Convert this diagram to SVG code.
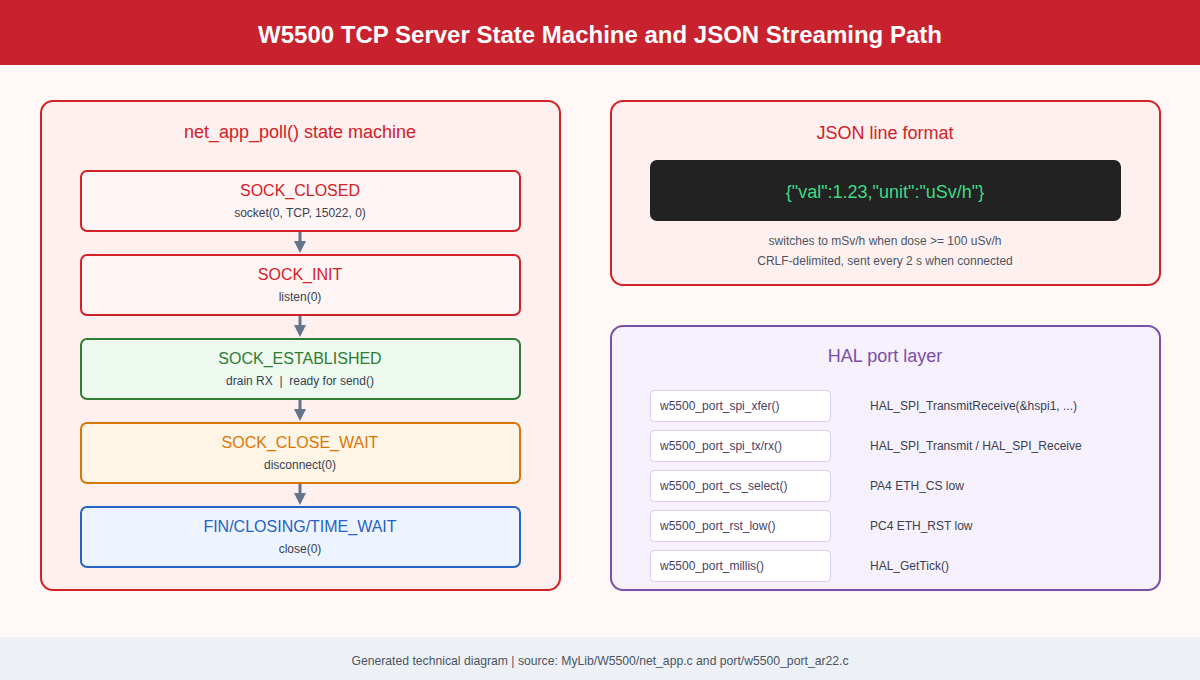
<svg xmlns="http://www.w3.org/2000/svg" width="1200" height="680" viewBox="0 0 1200 680">
<defs>
<style>
text{font-family:"Liberation Sans",Arial,sans-serif}
.panelT{font-size:18px;text-anchor:middle}
.stT{font-size:16px;text-anchor:middle}
.stS{font-size:12px;text-anchor:middle;fill:#374151}
.red{fill:#fff5f5;stroke:#d42027;stroke-width:2}
.grn{fill:#eef9f0;stroke:#2e7d32;stroke-width:2}
.org{fill:#fff5e6;stroke:#d97706;stroke-width:2}
.blu{fill:#eef4ff;stroke:#2563c4;stroke-width:2}
.fn{fill:#ffffff;stroke:#dccbf2;stroke-width:1}
.fnT{font-size:12px;fill:#4a3d63}
.halT{font-size:12px;fill:#374151}
.conn{stroke:#64748b;stroke-width:3;fill:none}
</style>
<marker id="ah" markerWidth="4" markerHeight="4" refX="2" refY="2" orient="auto" markerUnits="strokeWidth">
<path d="M0,0 L4,2 L0,4 Z" fill="#64748b"/>
</marker>
</defs>
<rect width="1200" height="680" fill="#fff8f6"/>
<g id="header">
<rect x="0" y="0" width="1200" height="65" fill="#c8222e"/>
<text x="600" y="43" font-size="24" font-weight="bold" fill="#ffffff" text-anchor="middle">W5500 TCP Server State Machine and JSON Streaming Path</text>
</g>
<g id="panel-state">
<rect x="41" y="101" width="519" height="489" rx="12" fill="#fff0f0" stroke="#d42027" stroke-width="2"/>
<text x="300" y="138" class="panelT" fill="#d42027">net_app_poll() state machine</text>
</g>
<g id="sock-closed">
<rect x="81" y="171" width="439" height="60" rx="6" class="red"/>
<text x="300" y="196" class="stT" fill="#d42027">SOCK_CLOSED</text>
<text x="300" y="217" class="stS">socket(0, TCP, 15022, 0)</text>
</g>
<g id="sock-init">
<rect x="81" y="255" width="439" height="60" rx="6" class="red"/>
<text x="300" y="280" class="stT" fill="#d42027">SOCK_INIT</text>
<text x="300" y="301" class="stS">listen(0)</text>
</g>
<g id="sock-established">
<rect x="81" y="339" width="439" height="60" rx="6" class="grn"/>
<text x="300" y="364" class="stT" fill="#2e7d32">SOCK_ESTABLISHED</text>
<text x="300" y="385" class="stS" xml:space="preserve">drain RX  |  ready for send()</text>
</g>
<g id="sock-close-wait">
<rect x="81" y="423" width="439" height="60" rx="6" class="org"/>
<text x="300" y="448" class="stT" fill="#d97706">SOCK_CLOSE_WAIT</text>
<text x="300" y="469" class="stS">disconnect(0)</text>
</g>
<g id="fin-closing">
<rect x="81" y="507" width="439" height="60" rx="6" class="blu"/>
<text x="300" y="532" class="stT" fill="#2563c4">FIN/CLOSING/TIME_WAIT</text>
<text x="300" y="553" class="stS">close(0)</text>
</g>
<g id="connectors">
<line x1="300" y1="232" x2="300" y2="247" class="conn" marker-end="url(#ah)"/>
<line x1="300" y1="316" x2="300" y2="331" class="conn" marker-end="url(#ah)"/>
<line x1="300" y1="400" x2="300" y2="415" class="conn" marker-end="url(#ah)"/>
<line x1="300" y1="484" x2="300" y2="499" class="conn" marker-end="url(#ah)"/>
</g>
<g id="panel-json">
<rect x="611" y="101" width="549" height="184" rx="12" fill="#fff0f0" stroke="#d42027" stroke-width="2"/>
<text x="885" y="139" class="panelT" fill="#d42027">JSON line format</text>
<rect x="650" y="160" width="471" height="61" rx="7" fill="#222222"/>
<text x="885" y="198" font-size="18" fill="#3ddc84" text-anchor="middle">{"val":1.23,"unit":"uSv/h"}</text>
<text x="885" y="245" font-size="12" fill="#4b5563" text-anchor="middle">switches to mSv/h when dose &gt;= 100 uSv/h</text>
<text x="885" y="265" font-size="12" fill="#4b5563" text-anchor="middle">CRLF-delimited, sent every 2 s when connected</text>
</g>
<g id="panel-hal">
<rect x="611" y="326" width="549" height="264" rx="12" fill="#f7f0fd" stroke="#7a4fa8" stroke-width="2"/>
<text x="885" y="362" class="panelT" fill="#7a4fa8">HAL port layer</text>
</g>
<g id="hal-xfer">
<rect x="650.5" y="390.5" width="180" height="31" rx="4" class="fn"/>
<text x="660" y="410" class="fnT">w5500_port_spi_xfer()</text>
<text x="870" y="410" class="halT">HAL_SPI_TransmitReceive(&amp;hspi1, ...)</text>
</g>
<g id="hal-txrx">
<rect x="650.5" y="430.5" width="180" height="31" rx="4" class="fn"/>
<text x="660" y="450" class="fnT">w5500_port_spi_tx/rx()</text>
<text x="870" y="450" class="halT">HAL_SPI_Transmit / HAL_SPI_Receive</text>
</g>
<g id="hal-cs">
<rect x="650.5" y="470.5" width="180" height="31" rx="4" class="fn"/>
<text x="660" y="490" class="fnT">w5500_port_cs_select()</text>
<text x="870" y="490" class="halT">PA4 ETH_CS low</text>
</g>
<g id="hal-rst">
<rect x="650.5" y="510.5" width="180" height="31" rx="4" class="fn"/>
<text x="660" y="530" class="fnT">w5500_port_rst_low()</text>
<text x="870" y="530" class="halT">PC4 ETH_RST low</text>
</g>
<g id="hal-millis">
<rect x="650.5" y="550.5" width="180" height="31" rx="4" class="fn"/>
<text x="660" y="570" class="fnT">w5500_port_millis()</text>
<text x="870" y="570" class="halT">HAL_GetTick()</text>
</g>
<g id="footer">
<rect x="0" y="637" width="1200" height="43" fill="#edf0f5"/>
<text x="600" y="665" font-size="12.2" fill="#4b5563" text-anchor="middle">Generated technical diagram | source: MyLib/W5500/net_app.c and port/w5500_port_ar22.c</text>
</g>
</svg>
